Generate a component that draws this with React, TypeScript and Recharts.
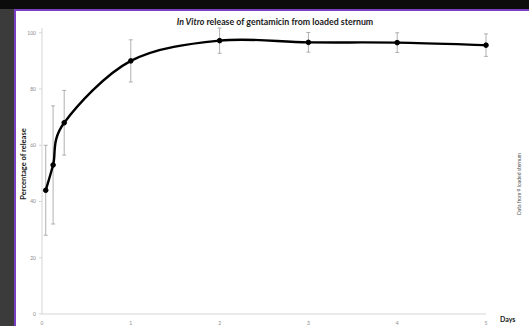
import { ErrorBar, Line, LineChart, XAxis, YAxis } from "recharts";

// time points in days (1h, 3h, 6h, then daily)
const days = [0.042, 0.125, 0.25, 1, 2, 3, 4, 5];
const release = [44, 53, 68, 90, 97.2, 96.6, 96.5, 95.6];
const sd = [16, 21, 11.5, 7.5, 4.5, 3.5, 3.5, 4];
const xTicks = [0, 1, 2, 3, 4, 5];
const yTicks = [0, 20, 40, 60, 80, 100];

const rows = days.map((d, i) => ({ day: d, pct: release[i], err: sd[i] }));

// excel-ish smoothed line (catmull-rom through the points)
function smooth(context: any) {
  let pts: [number, number][] = [];
  return {
    areaStart() {},
    areaEnd() {},
    lineStart() {
      pts = [];
    },
    point(x: number, y: number) {
      pts.push([+x, +y]);
    },
    lineEnd() {
      if (!pts.length) return;
      context.moveTo(pts[0][0], pts[0][1]);
      for (let i = 0; i < pts.length - 1; i++) {
        const p0 = pts[Math.max(0, i - 1)];
        const p1 = pts[i];
        const p2 = pts[i + 1];
        const p3 = pts[Math.min(pts.length - 1, i + 2)];
        context.bezierCurveTo(
          p1[0] + (p2[0] - p0[0]) / 6,
          p1[1] + (p2[1] - p0[1]) / 6,
          p2[0] - (p3[0] - p1[0]) / 6,
          p2[1] - (p3[1] - p1[1]) / 6,
          p2[0],
          p2[1]
        );
      }
    },
  };
}

const tick = { fontSize: 5, fill: "#8a8a8a", fontFamily: "Lato" };

export default function App() {
  return (
    <div
      style={{
        position: "fixed",
        left: 0,
        top: 0,
        width: 529,
        height: 326,
        background: "#fff",
        overflow: "hidden",
        fontFamily: "Lato, sans-serif",
      }}
    >
      <div style={{ position: "absolute", left: 0, top: 0, width: 529, height: 9, background: "#0c0c0c" }} />
      <div style={{ position: "absolute", left: 0, top: 9, width: 529, height: 2, background: "#7b3fc4" }} />
      <div style={{ position: "absolute", left: 0, top: 9, width: 14, height: 317, background: "#3b3b3b" }} />
      <div style={{ position: "absolute", left: 14, top: 9, width: 2, height: 317, background: "#7b3fc4" }} />

      <LineChart
        width={529}
        height={326}
        data={rows}
        margin={{ top: 28, right: 43, bottom: 0, left: 26 }}
        style={{ position: "absolute", left: 0, top: 0 }}
      >
        <XAxis
          dataKey="day"
          type="number"
          domain={[0, 5]}
          ticks={xTicks}
          tick={tick}
          height={12}
          stroke="#d6d6d6"
          tickLine={false}
          tickMargin={1}
        />
        <YAxis
          type="number"
          domain={[0, 100]}
          ticks={yTicks}
          tick={tick}
          width={16}
          stroke="#d6d6d6"
          tickSize={3}
          tickMargin={3}
        />
        <Line
          dataKey="pct"
          type={smooth as any}
          stroke="#000"
          strokeWidth={2.4}
          dot={{ r: 2.3, fill: "#000", stroke: "#000", strokeWidth: 1 }}
          isAnimationActive={false}
        >
          <ErrorBar dataKey="err" direction="y" width={2} stroke="#a8a8a8" strokeWidth={0.9} />
        </Line>
      </LineChart>

      <div
        style={{
          position: "absolute",
          left: 0,
          width: 550,
          top: 16,
          textAlign: "center",
          fontSize: 8.8,
          fontWeight: 700,
          color: "#1a1a1a",
        }}
      >
        <i>In Vitro</i> release of gentamicin from loaded sternum
      </div>
      <div
        style={{
          position: "absolute",
          left: 23,
          top: 164,
          transform: "translate(-50%, -50%) rotate(-90deg)",
          whiteSpace: "nowrap",
          fontSize: 7.5,
          fontWeight: 700,
          color: "#1a1a1a",
        }}
      >
        Percentage of release
      </div>
      <div
        style={{
          position: "absolute",
          left: 500,
          top: 315,
          fontSize: 7,
          fontWeight: 700,
          color: "#1a1a1a",
        }}
      >
        Days
      </div>
      <div
        style={{
          position: "absolute",
          left: 519,
          top: 184,
          transform: "translate(-50%, -50%) rotate(-90deg)",
          whiteSpace: "nowrap",
          fontSize: 5,
          color: "#555",
        }}
      >
        Data from 9 loaded sternum
      </div>
    </div>
  );
}
